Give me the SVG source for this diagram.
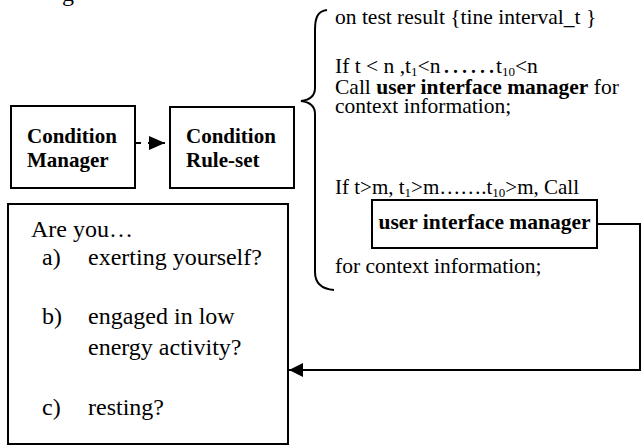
<svg xmlns="http://www.w3.org/2000/svg" width="642" height="446" viewBox="0 0 642 446">
<style>
.box{fill:#fff;stroke:#000;stroke-width:2}
.t{font-family:"Liberation Serif","Times New Roman",serif;fill:#000}
.b{font-weight:bold}
.r{font-size:21.5px}
.q{font-size:24px}
.s{font-size:13px}
.ln{fill:none;stroke:#000;stroke-width:2}
</style>
<defs>
<marker id="ah" viewBox="0 0 14 14" refX="14" refY="7" markerWidth="14" markerHeight="14" markerUnits="userSpaceOnUse" orient="auto">
<path d="M0,0 L14,7 L0,14 z" fill="#000"/>
</marker>
<marker id="ah2" viewBox="0 0 16 14" refX="16" refY="7" markerWidth="16" markerHeight="14" markerUnits="userSpaceOnUse" orient="auto">
<path d="M0,0 L16,7 L0,14 z" fill="#000"/>
</marker>
</defs>
<text class="t" x="62" y="1" font-size="24">g</text>
<g id="connectors">
<line class="ln" x1="135" y1="143" x2="165" y2="143" stroke-dasharray="6,7" marker-end="url(#ah2)"/>
<polyline class="ln" points="597,224 640,224 640,370 289,370" marker-end="url(#ah)"/>
<path class="ln" d="M327,10 C318,11 315,17 315,30 L315,88 C315,96 309,100 301,101 C309,102 315,106 315,114 L315,272 C315,283 322,289 334,290"/>
</g>
<g id="condition-manager">
<rect class="box" x="11" y="106" width="124" height="82"/>
<text class="t b" x="27" y="143" font-size="21">Condition</text>
<text class="t b" x="27" y="167" font-size="21">Manager</text>
</g>
<g id="condition-ruleset">
<rect class="box" x="170" y="107" width="124" height="81"/>
<text class="t b" x="186" y="143" font-size="21">Condition</text>
<text class="t b" x="186" y="167" font-size="21">Rule-set</text>
</g>
<g id="rules">
<text class="t r" x="335" y="24">on test result {tine interval_t }</text>
<text class="t r" x="335" y="73">If t &lt; n ,t<tspan class="s" dy="3">1</tspan><tspan dy="-3">&lt;n</tspan><tspan x="442" font-size="27">……</tspan><tspan>t</tspan><tspan class="s" dy="3">10</tspan><tspan dy="-3">&lt;n</tspan></text>
<text class="t r" x="335" y="94">Call <tspan class="b">user interface manager</tspan> for</text>
<text class="t r" x="335" y="113">context information;</text>
<text class="t" x="335" y="194" font-size="21">If t&gt;m, t<tspan class="s" dy="3">1</tspan><tspan dy="-3">&gt;m…….t</tspan><tspan class="s" dy="3">10</tspan><tspan dy="-3">&gt;m, Call</tspan></text>
<text class="t r" x="335" y="273">for context information;</text>
</g>
<g id="user-interface-manager">
<rect class="box" x="372" y="200" width="225" height="48"/>
<text class="t r b" x="484.5" y="229" text-anchor="middle">user interface manager</text>
</g>
<g id="question">
<rect class="box" x="8" y="204" width="280" height="240"/>
<text class="t q" x="31" y="237">Are you…</text>
<text class="t q" x="42" y="265">a)</text>
<text class="t q" x="88" y="265">exerting yourself?</text>
<text class="t q" x="42" y="324">b)</text>
<text class="t q" x="88" y="324">engaged in low</text>
<text class="t q" x="88" y="355">energy activity?</text>
<text class="t q" x="42" y="415">c)</text>
<text class="t q" x="88" y="415">resting?</text>
</g>
</svg>
